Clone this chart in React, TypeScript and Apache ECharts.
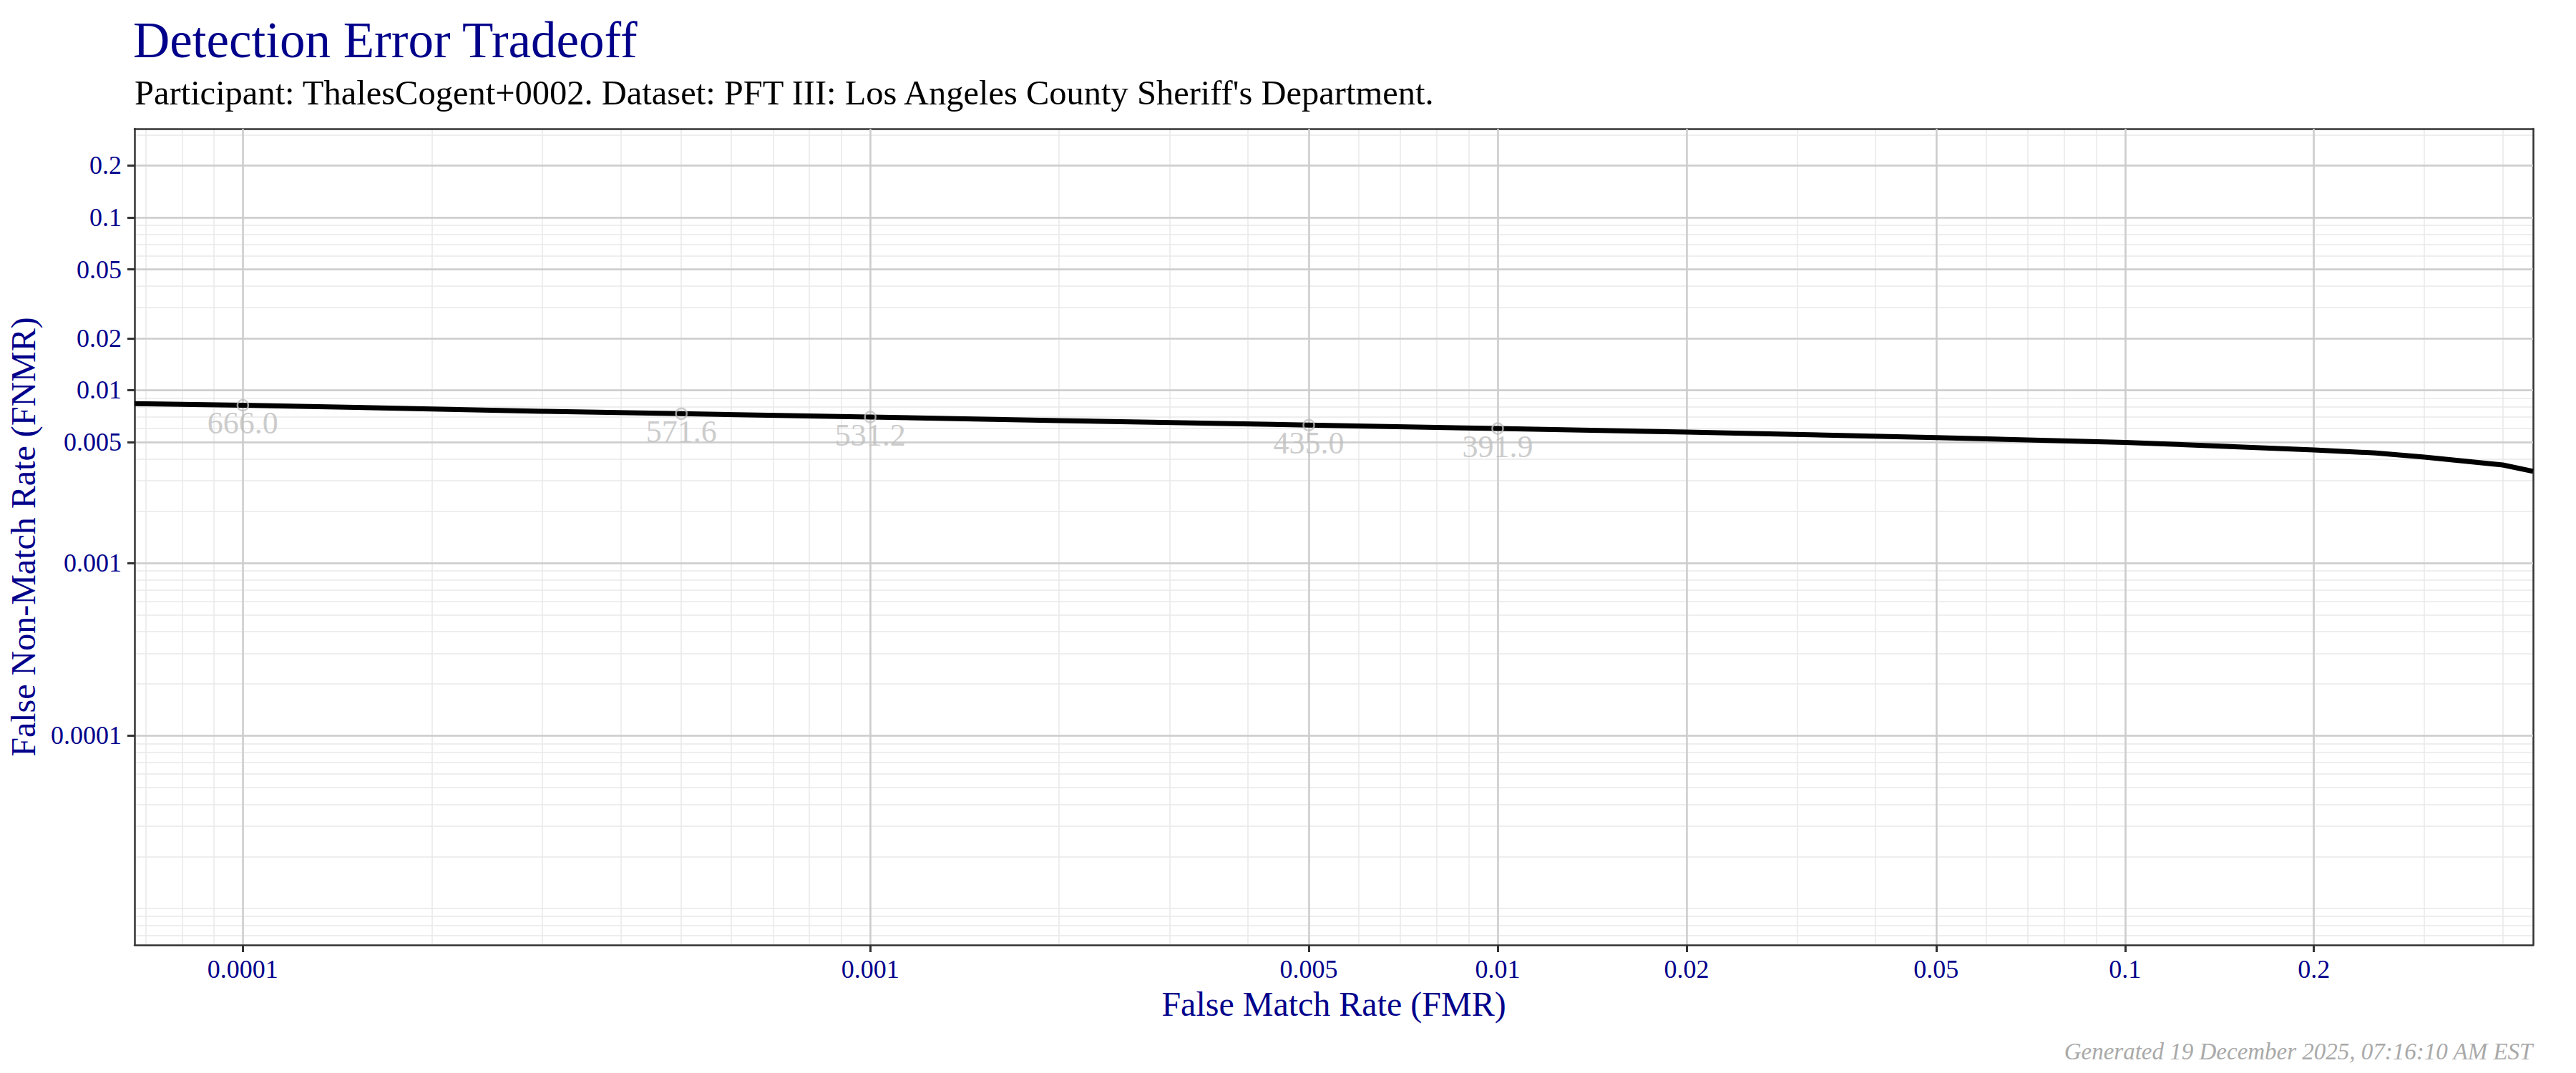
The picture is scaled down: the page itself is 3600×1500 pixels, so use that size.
import React, { useEffect, useRef } from 'react';
import * as echarts from 'echarts';

const FONT = '"Liberation Serif", "DejaVu Serif", serif';
const NAVY = '#00008b';

// DET curve: false match rate vs false non-match rate
const curveFmr = [6.72e-5, 1e-4, 2e-4, 3e-4, 5e-4, 1e-3, 2e-3, 5e-3, 0.01, 0.02, 0.05, 0.1, 0.2, 0.251, 0.3, 0.4, 0.447];
const curveFnmr = [0.00837, 0.00818, 0.00779, 0.00755, 0.00731, 0.00699, 0.00667, 0.00628, 0.006, 0.00572, 0.00532, 0.00499, 0.00451, 0.00433, 0.0041, 0.00369, 0.00339];

// threshold markers on the curve
const thresholdLabels = ['666.0', '571.6', '531.2', '435.0', '391.9'];
const thresholdFmr = [1e-4, 5e-4, 1e-3, 5e-3, 1e-2];
const thresholdFnmr = [0.00818, 0.00731, 0.00699, 0.00628, 0.006];

const xTicks = [0.0001, 0.001, 0.005, 0.01, 0.02, 0.05, 0.1, 0.2];
const yTicks = [0.0001, 0.001, 0.005, 0.01, 0.02, 0.05, 0.1, 0.2];

const X_MIN = 6.72e-5;
const X_MAX = 0.447;
const Y_MIN = 6.15e-6;
const Y_MAX = 0.326;

// k * 10^n minor grid positions inside [lo, hi]
const minorBreaks = (lo: number, hi: number) => {
  const out: number[] = [];
  for (let e = -7; e <= 0; e++) {
    for (let k = 1; k <= 9; k++) {
      const v = Number((k * Math.pow(10, e)).toPrecision(3));
      if (v >= lo && v <= hi) out.push(v);
    }
  }
  return out;
};

const fmt = (v: number) => String(Number(v.toPrecision(4)));

const App: React.FC = () => {
  const chartRef = useRef<HTMLDivElement>(null);

  useEffect(() => {
    if (!chartRef.current) return;
    const chart = echarts.init(chartRef.current, undefined, { renderer: 'svg' });

    const xMinor = minorBreaks(X_MIN, X_MAX);
    const yMinor = minorBreaks(Y_MIN, Y_MAX);
    const border = { show: true, onZero: false, lineStyle: { color: '#333333', width: 2.5 } };
    const tick = { show: true, length: 10, lineStyle: { color: '#333333', width: 3 } };
    const tickLabel = { color: NAVY, fontSize: 36, fontFamily: FONT, formatter: fmt };

    const options: echarts.EChartsOption = {
      animation: false,
      backgroundColor: '#ffffff',
      title: [
        {
          text: 'Detection Error Tradeoff',
          left: 186, top: 20, padding: 0,
          textStyle: { color: NAVY, fontSize: 71, fontWeight: 'normal', fontFamily: FONT }
        },
        {
          text: "Participant: ThalesCogent+0002. Dataset: PFT III: Los Angeles County Sheriff's Department.",
          left: 188, top: 105, padding: 0,
          textStyle: { color: '#000000', fontSize: 48.5, fontWeight: 'normal', fontFamily: FONT }
        },
        {
          text: 'Generated 19 December 2025, 07:16:10 AM EST',
          right: 60, bottom: 14, padding: 0,
          textStyle: { color: '#a9a9a9', fontSize: 33, fontStyle: 'italic', fontWeight: 'normal', fontFamily: FONT }
        }
      ],
      grid: { left: 188, right: 60, top: 180, bottom: 179 },
      xAxis: [
        {
          // minor grid + top border
          type: 'log', logBase: 10, min: X_MIN, max: X_MAX, position: 'top', z: 0,
          axisLine: border,
          axisTick: { show: false, customValues: xMinor },
          axisLabel: { show: false, customValues: xMinor },
          splitLine: { show: true, lineStyle: { color: '#e8e8e8', width: 1.5 } }
        },
        {
          type: 'log', logBase: 10, min: X_MIN, max: X_MAX, position: 'bottom', z: 1,
          name: 'False Match Rate (FMR)',
          nameLocation: 'middle', nameGap: 58,
          nameTextStyle: { color: NAVY, fontSize: 48, fontFamily: FONT },
          axisLine: border,
          axisTick: { ...tick, customValues: xTicks },
          axisLabel: { ...tickLabel, margin: 16, customValues: xTicks },
          splitLine: { show: true, lineStyle: { color: '#cccccc', width: 2.5 } }
        }
      ],
      yAxis: [
        {
          type: 'log', logBase: 10, min: Y_MIN, max: Y_MAX, position: 'right', z: 0,
          axisLine: border,
          axisTick: { show: false, customValues: yMinor },
          axisLabel: { show: false, customValues: yMinor },
          splitLine: { show: true, lineStyle: { color: '#e8e8e8', width: 1.5 } }
        },
        {
          type: 'log', logBase: 10, min: Y_MIN, max: Y_MAX, position: 'left', z: 1,
          name: 'False Non-Match Rate (FNMR)',
          nameLocation: 'middle', nameGap: 132, nameRotate: 90,
          nameTextStyle: { color: NAVY, fontSize: 48, fontFamily: FONT },
          axisLine: border,
          axisTick: { ...tick, customValues: yTicks },
          axisLabel: { ...tickLabel, margin: 18, customValues: yTicks },
          splitLine: { show: true, lineStyle: { color: '#cccccc', width: 2.5 } }
        }
      ],
      series: [
        {
          type: 'line',
          xAxisIndex: 1, yAxisIndex: 1,
          data: curveFmr.map((x, i) => [x, curveFnmr[i]]),
          showSymbol: false,
          lineStyle: { color: '#000000', width: 7 },
          z: 3
        },
        {
          type: 'scatter',
          xAxisIndex: 1, yAxisIndex: 1,
          data: thresholdFmr.map((x, i) => ({ value: [x, thresholdFnmr[i]], name: thresholdLabels[i] })),
          symbol: 'circle',
          symbolSize: 15,
          itemStyle: { color: 'rgba(0,0,0,0)', borderColor: '#bebebe', borderWidth: 2.5 },
          label: {
            show: true, position: 'inside', offset: [0, 25], formatter: '{b}',
            color: '#bebebe', fontSize: 44, fontFamily: FONT
          },
          z: 4
        }
      ]
    };

    chart.setOption(options);
    return () => {
      chart.dispose();
    };
  }, []);

  return <div ref={chartRef} style={{ position: 'absolute', left: 0, top: 0, width: 3600, height: 1500 }} />;
};

export default App;
